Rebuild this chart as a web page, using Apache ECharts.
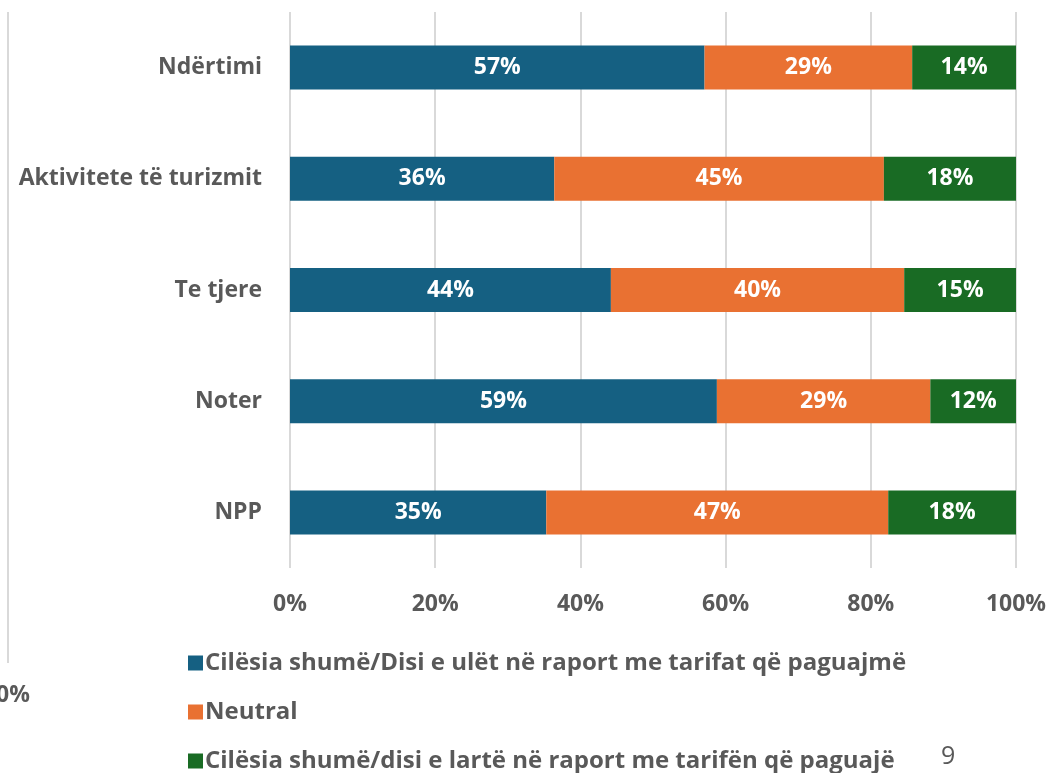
<!DOCTYPE html>
<html>
<head>
<meta charset="utf-8">
<script src="https://cdn.jsdelivr.net/npm/echarts@6/dist/echarts.min.js"></script>
<style>
  html, body { margin: 0; padding: 0; background: #fff; }
  #main { width: 1050px; height: 773px; }
</style>
</head>
<body>
<div id="main"></div>
<script>
// categories top -> bottom
const categories = ['Ndërtimi', 'Aktivitete të turizmit', 'Te tjere', 'Noter', 'NPP'];
const seriesNames = [
  'Cilësia shumë/Disi e ulët në raport me tarifat që paguajmë',
  'Neutral',
  'Cilësia shumë/disi e lartë në raport me tarifën që paguajë'
];
const lowValues = [57.1, 36.4, 44.2, 58.8, 35.3];
const neutralValues = [28.6, 45.4, 40.4, 29.4, 47.1];
const highValues = [14.3, 18.2, 15.4, 11.8, 17.6];
const xTicks = [0, 20, 40, 60, 80, 100];

const colors = ['#156082', '#E97132', '#196B24'];
const font = '"Open Sans", Inter, sans-serif';
const grey = '#595959';

const chart = echarts.init(document.getElementById('main'));

function barSeries(name, data, color) {
  return {
    name: name,
    type: 'bar',
    stack: 'total',
    barWidth: 44,
    data: data,
    itemStyle: { color: color },
    label: {
      show: true,
      position: 'inside',
      color: '#fff',
      fontFamily: font,
      fontWeight: 'bold',
      fontSize: 23,
      formatter: p => Math.round(p.value) + '%'
    }
  };
}

const option = {
  backgroundColor: '#ffffff',
  animation: false,
  textStyle: { fontFamily: font },
  grid: { left: 290, right: 34, top: 12, bottom: 205, containLabel: false },
  xAxis: {
    type: 'value',
    min: 0,
    max: 100,
    interval: 20,
    axisLine: { show: false },
    axisTick: { show: false },
    splitLine: { lineStyle: { color: '#d9d9d9', width: 2 } },
    axisLabel: {
      color: grey,
      fontSize: 23,
      fontWeight: 'bold',
      margin: 25,
      formatter: v => xTicks.includes(v) ? v + '%' : ''
    }
  },
  yAxis: {
    type: 'category',
    inverse: true,
    data: categories,
    axisLine: { show: false },
    axisTick: { show: false },
    axisLabel: {
      color: grey,
      fontSize: 23,
      fontWeight: 'bold',
      margin: 28
    }
  },
  legend: {
    orient: 'vertical',
    left: 183,
    top: 646,
    height: 200,
    itemWidth: 15,
    itemHeight: 15,
    itemGap: 25,
    icon: 'rect',
    textStyle: { color: grey, fontSize: 24, fontWeight: 'bold', padding: [0, 0, 0, -3] },
    data: seriesNames
  },
  graphic: [
    { type: 'line', shape: { x1: 8, y1: 12, x2: 8, y2: 663 }, style: { stroke: '#d9d9d9', lineWidth: 2 } },
    { type: 'text', left: -4, top: 684, style: { text: '0%', fill: grey, font: 'bold 23px ' + font } },
    { type: 'text', left: 941, top: 744, style: { text: '9', fill: grey, font: '25px ' + font } }
  ],
  series: [
    barSeries(seriesNames[0], lowValues, colors[0]),
    barSeries(seriesNames[1], neutralValues, colors[1]),
    barSeries(seriesNames[2], highValues, colors[2])
  ]
};

chart.setOption(option);
</script>
</body>
</html>
